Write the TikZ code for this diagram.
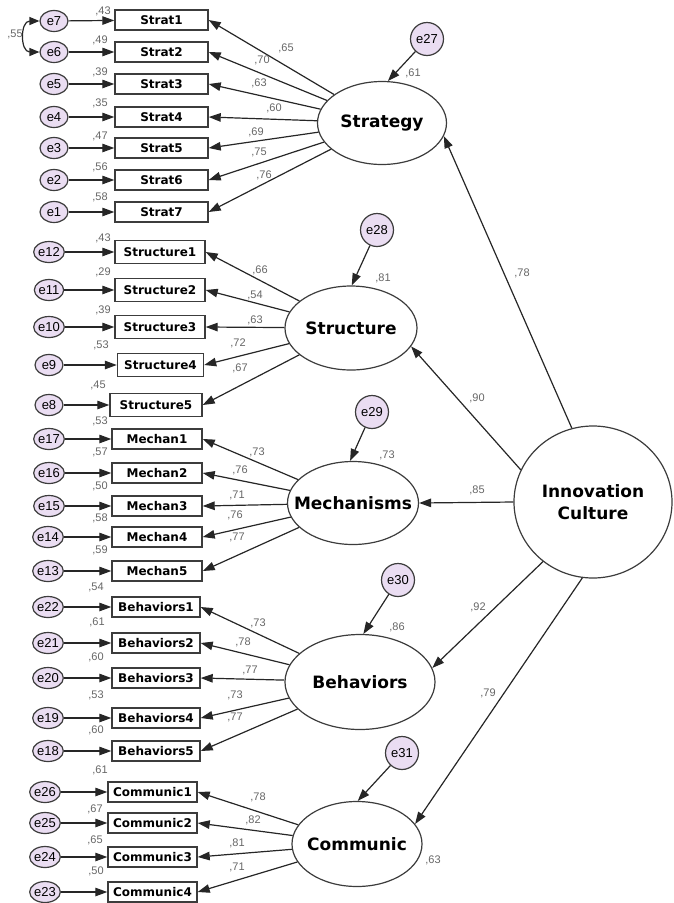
\documentclass[tikz,border=0pt]{standalone}
\usepackage{fontspec}
\setmainfont{Liberation Sans}
\newfontfamily\dv{DejaVu Sans}
\usetikzlibrary{arrows.meta,shapes.geometric}
\definecolor{errfill}{HTML}{EADDF2}
\definecolor{edge}{HTML}{3C3C3C}
\tikzset{
  obs/.style={draw=edge, line width=1.4pt, fill=white, minimum height=20pt, inner sep=0pt,
    font=\dv\bfseries\fontsize{12}{12}\selectfont},
  err/.style={ellipse, draw=edge, line width=1.2pt, fill=errfill, minimum width=28pt,
    minimum height=21pt, inner sep=0pt, font=\fontsize{13}{13}\selectfont},
  lat/.style={ellipse, draw=edge, line width=1.2pt, fill=white, inner sep=0pt},
  latfont/.style={align=center, inner sep=0pt, font=\dv\bfseries\fontsize{17}{22}\selectfont},
  lerr/.style={circle, draw=edge, line width=1.2pt, fill=errfill, minimum size=33pt,
    inner sep=0pt, font=\fontsize{13}{13}\selectfont},
  num/.style={font=\fontsize{11}{11}\selectfont, text=black!60, inner sep=0pt},
  arr/.style={-{Triangle[length=12pt,width=8.5pt]}, line width=1.2pt, draw=black!85},
  dblarr/.style={{Triangle[length=10pt,width=8pt]}-{Triangle[length=10pt,width=8pt]}, line width=1.2pt, draw=black!85}
}
\begin{document}
\begin{tikzpicture}[x=1pt,y=-1pt]
\useasboundingbox (0,0) rectangle (673,903);

% ---------- latent variables ----------
\node[lat, minimum width=129pt, minimum height=83pt, label={[latfont]center:Strategy}] (strat) at (382,123) {};
\node[lat, minimum width=132pt, minimum height=84pt, label={[latfont]center:Structure}] (struc) at (351,328) {};
\node[lat, minimum width=131pt, minimum height=83pt, label={[latfont]center:Mechanisms}] (mech) at (353,503) {};
\node[lat, minimum width=150pt, minimum height=95pt, label={[latfont]center:Behaviors}] (beh) at (360,682) {};
\node[lat, minimum width=130pt, minimum height=85pt, label={[latfont]center:Communic}] (comm) at (357,844) {};
\node[lat, minimum width=158pt, minimum height=152pt, label={[latfont]center:Innovation\\Culture}] (ic) at (593,502) {};

\node[lerr] (e27) at (427,39) {e27};
\node[lerr] (e28) at (377,230) {e28};
\node[lerr] (e29) at (372,412) {e29};
\node[lerr] (e30) at (398,580) {e30};
\node[lerr] (e31) at (402,753) {e31};

\draw[arr] (e27) -- (strat.82);
\draw[arr] (e28) -- (struc.89);
\draw[arr] (e29) -- (mech.94);
\draw[arr] (e30) -- (beh.86);
\draw[arr] (e31) -- (comm.89);

\draw[arr] (ic.106) -- (strat.-12);
\draw[arr] (ic.156) -- (struc.-17);
\draw[arr] (ic.west) -- (mech.east);
\draw[arr] (ic.-130) -- (beh.11);
\draw[arr] (ic.-98) -- (comm.19);

\node[num] (l27) at (413,73) {,61};
\node[num] (l28) at (383,278) {,81};
\node[num] (l29) at (387,455) {,73};
\node[num] (l30) at (397,627) {,86};
\node[num] (l31) at (433,860) {,63};
\node[num] (g1) at (522,273) {,78};
\node[num] (g2) at (477,398) {,90};
\node[num] (g3) at (477,490) {,85};
\node[num] (g4) at (478,607) {,92};
\node[num] (g5) at (488,693) {,79};

% ---------- Strategy indicators ----------
\node[obs, minimum width=93pt] (s1) at (161.5,20) {Strat1};
\node[obs, minimum width=93pt] (s2) at (161.5,52) {Strat2};
\node[obs, minimum width=93pt] (s3) at (161.5,84) {Strat3};
\node[obs, minimum width=93pt] (s4) at (161.5,117) {Strat4};
\node[obs, minimum width=93pt] (s5) at (161.5,148) {Strat5};
\node[obs, minimum width=93pt] (s6) at (161.5,180) {Strat6};
\node[obs, minimum width=93pt] (s7) at (161.5,212) {Strat7};
\node[err] (e7) at (54,21) {e7};
\node[err] (e6) at (54,52) {e6};
\node[err] (e5) at (54,84) {e5};
\node[err] (e4) at (54,117) {e4};
\node[err] (e3) at (54,148) {e3};
\node[err] (e2) at (54,180) {e2};
\node[err] (e1) at (54,212) {e1};
\foreach \a/\b in {e7/s1,e6/s2,e5/s3,e4/s4,e3/s5,e2/s6,e1/s7}{\draw[arr] (\a) -- (\b);}
\foreach \b in {s1,s2,s3,s4,s5,s6,s7}{\draw[arr] (strat) -- (\b.east);}
\draw[dblarr] (e7.west) .. controls (20,21) and (20,52) .. (e6.west);
\node[num] (c76) at (15,34) {,55};
\node[num] at (103,11) {,43};
\node[num] at (100,40) {,49};
\node[num] at (100,72) {,39};
\node[num] at (100,103) {,35};
\node[num] at (100,136) {,47};
\node[num] at (100,167) {,56};
\node[num] at (100,197) {,58};
\node[num] at (286,48) {,65};
\node[num] at (262,60) {,70};
\node[num] at (259,83) {,63};
\node[num] at (274,108) {,60};
\node[num] at (256,132) {,69};
\node[num] at (259,152) {,75};
\node[num] at (264,175) {,76};

% ---------- Structure indicators ----------
\node[obs, minimum width=90pt, minimum height=23pt] (t1) at (160,252) {Structure1};
\node[obs, minimum width=90pt, minimum height=23pt] (t2) at (160,290) {Structure2};
\node[obs, minimum width=90pt, minimum height=23pt] (t3) at (160,327) {Structure3};
\node[obs, minimum width=86pt, minimum height=23pt] (t4) at (160.5,365) {Structure4};
\node[obs, minimum width=92pt, minimum height=23pt] (t5) at (156,405) {Structure5};
\node[err] (e12) at (49,252) {e12};
\node[err] (e11) at (49,290) {e11};
\node[err] (e10) at (49,327) {e10};
\node[err] (e9) at (49,365) {e9};
\node[err] (e8) at (49,405) {e8};
\foreach \a/\b in {e12/t1,e11/t2,e10/t3,e9/t4,e8/t5}{\draw[arr] (\a) -- (\b);}
\foreach \b in {t1,t2,t3,t4,t5}{\draw[arr] (struc) -- (\b.east);}
\node[num] at (103,238) {,43};
\node[num] at (103,272) {,29};
\node[num] at (103,310) {,39};
\node[num] at (101,345) {,53};
\node[num] at (98,385) {,45};
\node[num] at (260,270) {,66};
\node[num] at (255,295) {,54};
\node[num] at (255,320) {,63};
\node[num] at (238,343) {,72};
\node[num] at (240,368) {,67};

% ---------- Mechanisms indicators ----------
\node[obs, minimum width=90pt] (m1) at (157,439) {Mechan1};
\node[obs, minimum width=90pt] (m2) at (157,473) {Mechan2};
\node[obs, minimum width=90pt] (m3) at (157,506) {Mechan3};
\node[obs, minimum width=90pt] (m4) at (157,537) {Mechan4};
\node[obs, minimum width=90pt] (m5) at (157,571) {Mechan5};
\node[err] (e17) at (49,439) {e17};
\node[err] (e16) at (49,473) {e16};
\node[err] (e15) at (49,506) {e15};
\node[err] (e14) at (48,537) {e14};
\node[err] (e13) at (48,571) {e13};
\foreach \a/\b in {e17/m1,e16/m2,e15/m3,e14/m4,e13/m5}{\draw[arr] (\a) -- (\b);}
\foreach \b in {m1,m2,m3,m4,m5}{\draw[arr] (mech) -- (\b.east);}
\node[num] at (100,421) {,53};
\node[num] at (100,452) {,57};
\node[num] at (100,486) {,50};
\node[num] at (100,518) {,58};
\node[num] at (100,550) {,59};
\node[num] at (257,452) {,73};
\node[num] at (240,470) {,76};
\node[num] at (237,495) {,71};
\node[num] at (235,515) {,76};
\node[num] at (237,537) {,77};

% ---------- Behaviors indicators ----------
\node[obs, minimum width=88pt] (b1) at (156,607) {Behaviors1};
\node[obs, minimum width=88pt] (b2) at (156,643) {Behaviors2};
\node[obs, minimum width=88pt] (b3) at (156,678) {Behaviors3};
\node[obs, minimum width=88pt] (b4) at (156,718) {Behaviors4};
\node[obs, minimum width=88pt] (b5) at (156,751) {Behaviors5};
\node[err] (e22) at (48,607) {e22};
\node[err] (e21) at (48,643) {e21};
\node[err] (e20) at (48,678) {e20};
\node[err] (e19) at (48,718) {e19};
\node[err] (e18) at (48,751) {e18};
\foreach \a/\b in {e22/b1,e21/b2,e20/b3,e19/b4,e18/b5}{\draw[arr] (\a) -- (\b);}
\foreach \b in {b1,b2,b3,b4,b5}{\draw[arr] (beh) -- (\b.east);}
\node[num] at (96,587) {,54};
\node[num] at (97,622) {,61};
\node[num] at (96,657) {,60};
\node[num] at (96,695) {,53};
\node[num] at (96,730) {,60};
\node[num] at (258,623) {,73};
\node[num] at (243,642) {,78};
\node[num] at (250,670) {,77};
\node[num] at (235,695) {,73};
\node[num] at (235,717) {,77};

% ---------- Communic indicators ----------
\node[obs, minimum width=89pt] (k1) at (152.5,792) {Communic1};
\node[obs, minimum width=89pt] (k2) at (152.5,823) {Communic2};
\node[obs, minimum width=89pt] (k3) at (152.5,857) {Communic3};
\node[obs, minimum width=89pt] (k4) at (152.5,892) {Communic4};
\node[err] (e26) at (45,792) {e26};
\node[err] (e25) at (45,823) {e25};
\node[err] (e24) at (45,857) {e24};
\node[err] (e23) at (45,892) {e23};
\foreach \a/\b in {e26/k1,e25/k2,e24/k3,e23/k4}{\draw[arr] (\a) -- (\b);}
\foreach \b in {k1,k2,k3,k4}{\draw[arr] (comm) -- (\b.east);}
\node[num] at (100,770) {,61};
\node[num] at (95,809) {,67};
\node[num] at (95,840) {,65};
\node[num] at (96,871) {,50};
\node[num] at (258,797) {,78};
\node[num] at (253,820) {,82};
\node[num] at (237,843) {,81};
\node[num] at (237,867) {,71};
\end{tikzpicture}
\end{document}
